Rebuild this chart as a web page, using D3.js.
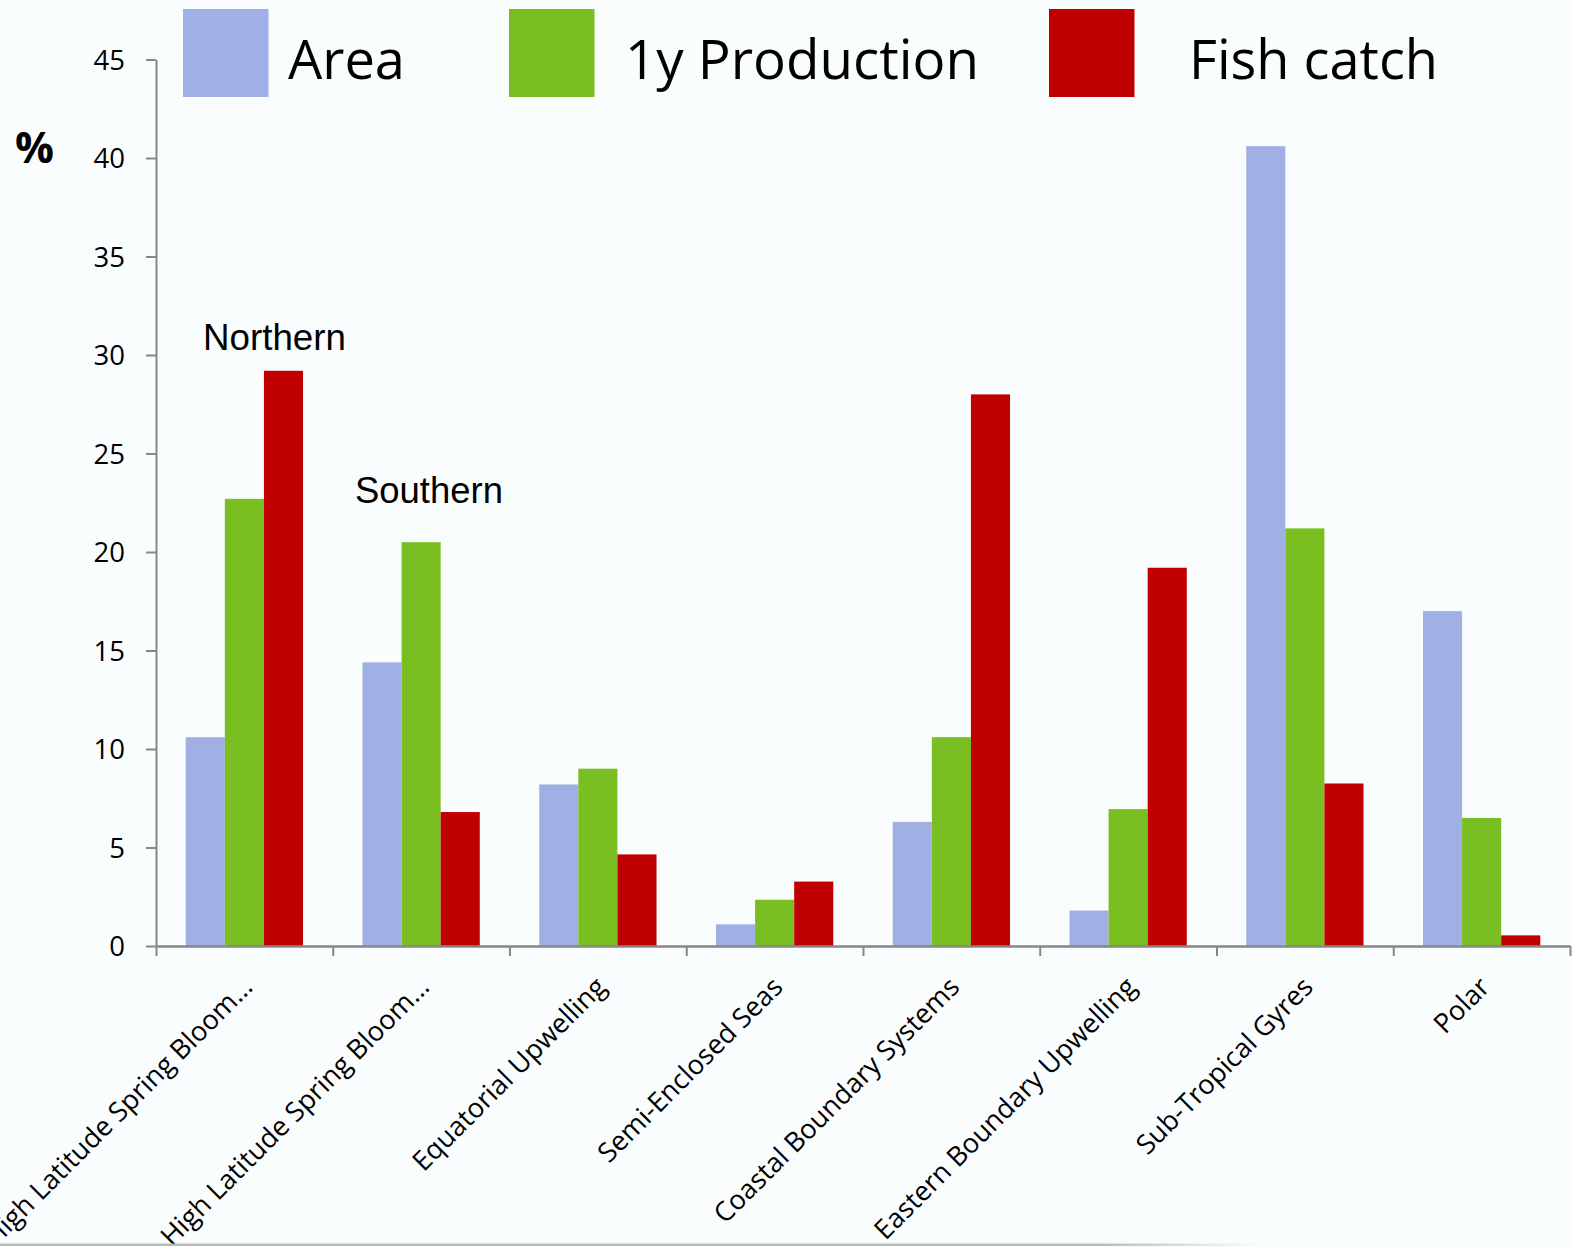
<!DOCTYPE html>
<html>
<head>
<meta charset="utf-8">
<script src="https://cdn.jsdelivr.net/npm/d3@7"></script>
<style>
  html, body { margin: 0; padding: 0; background: #fafdfe; }
  svg { display: block; }
</style>
</head>
<body>
<script>
// ---- data ----
const categories = [
  "High Latitude Spring Bloom…",
  "High Latitude Spring Bloom…",
  "Equatorial Upwelling",
  "Semi-Enclosed Seas",
  "Coastal Boundary Systems",
  "Eastern Boundary Upwelling",
  "Sub-Tropical Gyres",
  "Polar"
];
const seriesNames = ["Area", "1y Production", "Fish catch"];
const areaValues       = [10.6, 14.4, 8.2, 1.1, 6.3, 1.8, 40.6, 17.0];
const productionValues = [22.7, 20.5, 9.0, 2.35, 10.6, 6.95, 21.2, 6.5];
const fishValues       = [29.2, 6.8, 4.65, 3.27, 28.0, 19.2, 8.25, 0.54];
const yTickValues = [0, 5, 10, 15, 20, 25, 30, 35, 40, 45];
const yAxisLabel = "%";
const annotations = ["Northern", "Southern"];
const colors = ["#a0b0e4", "#7abf21", "#c00000"];

const W = 1573, H = 1247;
const svg = d3.select("body").append("svg").attr("width", W).attr("height", H);
svg.append("rect").attr("width", W).attr("height", H).attr("fill", "#fafdfe");

const seriesValues = [areaValues, productionValues, fishValues];
const idx = d3.range(categories.length);

const x0 = d3.scaleBand().domain(idx).range([156, 1570]).padding(0);
const x1 = d3.scaleBand().domain(seriesNames).range([0, x0.bandwidth()])
  .paddingInner(0).paddingOuter(0.76);
const y = d3.scaleLinear().domain([0, 45]).range([946, 59.5]);
const color = d3.scaleOrdinal().domain(seriesNames).range(colors);

function fit(sel, target) {
  const w = sel.node().getComputedTextLength();
  const fs = parseFloat(sel.attr("font-size"));
  sel.attr("font-size", fs * target / w);
  return fs * target / w;
}

// bars
const groups = svg.append("g").selectAll("g").data(idx).join("g")
  .attr("transform", i => `translate(${x0(i)},0)`);
groups.selectAll("rect")
  .data(i => seriesNames.map((s, k) => ({ s, v: seriesValues[k][i] })))
  .join("rect")
  .attr("x", d => x1(d.s))
  .attr("width", x1.bandwidth())
  .attr("y", d => y(d.v))
  .attr("height", d => y(0) - y(d.v))
  .attr("fill", d => color(d.s));

// y axis
const yAxis = svg.append("g").attr("transform", "translate(156,0)")
  .call(d3.axisLeft(y).tickValues(yTickValues).tickSize(10).tickPadding(21).tickSizeOuter(0));
yAxis.select(".domain").attr("stroke", "#878787").attr("stroke-width", 2);
yAxis.selectAll(".tick line").attr("stroke", "#878787").attr("stroke-width", 2);
yAxis.selectAll(".tick text").attr("font-family", "'Open Sans', sans-serif")
  .attr("font-size", 27.5).attr("fill", "#000").attr("dy", "0.36em");

// x axis
const xLin = d3.scaleLinear().domain([0, categories.length]).range([156, 1570]);
const xAxis = svg.append("g").attr("transform", "translate(0,946)")
  .call(d3.axisBottom(xLin).tickValues(d3.range(categories.length + 1))
    .tickFormat("").tickSize(10).tickSizeOuter(0));
xAxis.select(".domain").attr("stroke", "#878787").attr("stroke-width", 2.5);
xAxis.selectAll(".tick line").attr("stroke", "#878787").attr("stroke-width", 2);

// x labels
const probe = svg.append("text").attr("font-family", "'Open Sans', sans-serif")
  .attr("font-size", 30).text("Eastern Boundary Upwelling");
const xfs = fit(probe, 357);
probe.remove();
svg.append("g").selectAll("text").data(idx).join("text")
  .attr("transform", i => `translate(${x0(i) + x0.bandwidth() / 2 + 3},${982}) rotate(-45)`)
  .attr("text-anchor", "end")
  .attr("dy", "0.35em")
  .attr("font-family", "'Open Sans', sans-serif")
  .attr("font-size", xfs)
  .attr("fill", "#000")
  .text(i => categories[i]);

// y axis label
const pct = svg.append("text").attr("x", 15).attr("y", 163)
  .attr("font-family", "'Open Sans', sans-serif").attr("font-weight", "bold")
  .attr("font-size", 42).attr("fill", "#000").text(yAxisLabel);
fit(pct, 39);

// legend
const legendSwatchX = [183, 509, 1049];
const legendTextX = [288, 625, 1189];
const legendTextW = [117, 354, 249];
seriesNames.forEach((s, k) => {
  svg.append("rect").attr("x", legendSwatchX[k]).attr("y", 9)
    .attr("width", 85.5).attr("height", 88).attr("fill", color(s));
  const t = svg.append("text").attr("x", legendTextX[k]).attr("y", 79)
    .attr("font-family", "'Open Sans', sans-serif").attr("font-size", 58)
    .attr("fill", "#000").text(s);
  fit(t, legendTextW[k]);
});

// annotations
const annPos = [[203, 350, 143], [355, 503, 148]];
annotations.forEach((a, k) => {
  const t = svg.append("text").attr("x", annPos[k][0]).attr("y", annPos[k][1])
    .attr("font-family", "'Liberation Sans', Arial, sans-serif").attr("font-size", 36)
    .attr("fill", "#000").text(a);
  fit(t, annPos[k][2]);
});

// bottom border line fading out
const defs = svg.append("defs");
const grad = defs.append("linearGradient").attr("id", "fadeLine");
grad.append("stop").attr("offset", "0%").attr("stop-color", "#b8b8b8");
grad.append("stop").attr("offset", "88%").attr("stop-color", "#bdbdbd");
grad.append("stop").attr("offset", "100%").attr("stop-color", "#fafdfe");
svg.append("rect").attr("x", 0).attr("y", 1243.5).attr("width", 1258).attr("height", 2.5)
  .attr("fill", "url(#fadeLine)");
</script>
</body>
</html>
